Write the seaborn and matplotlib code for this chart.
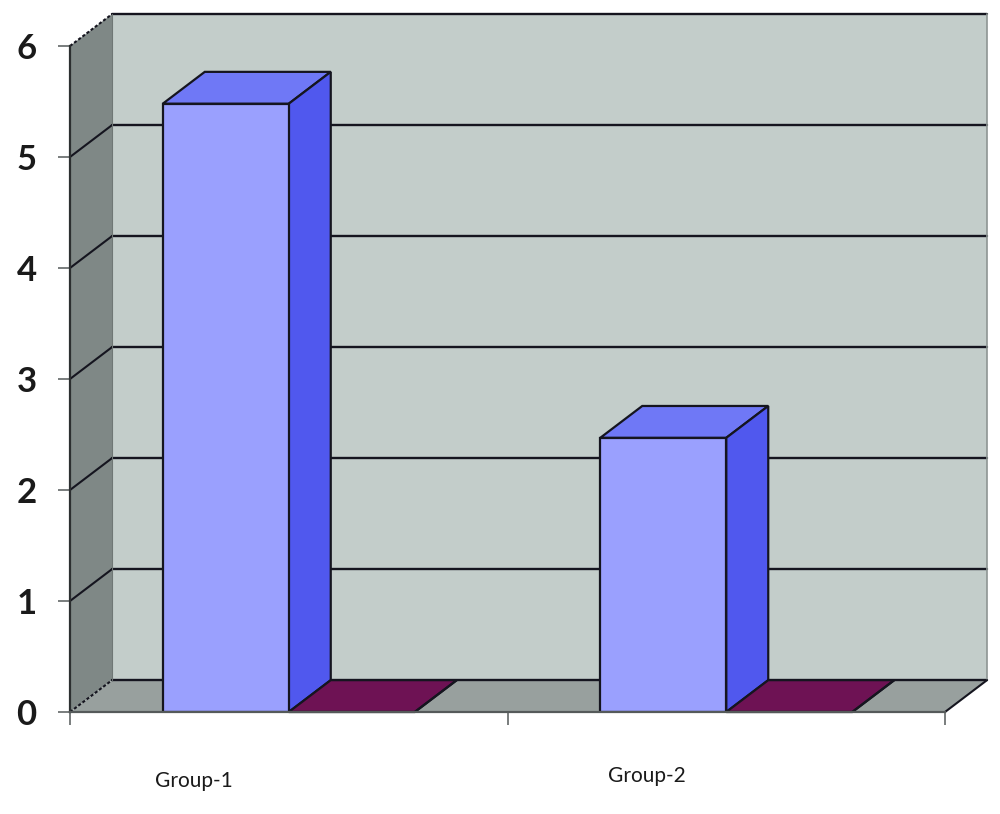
"""Pseudo-3D clustered column chart of two groups, built on a seaborn barplot."""

import matplotlib
matplotlib.use("Agg")
import matplotlib.pyplot as plt
import pandas as pd
import seaborn as sns
from matplotlib.patches import Polygon

groups = ["Group-1", "Group-2"]
series_a = [5.48, 2.47]
series_b = [0.0, 0.0]
y_ticks = [0, 1, 2, 3, 4, 5, 6]

WALL = "#c3cdca"
SIDE_WALL = "#7f8886"
FLOOR = "#98a09e"
EDGE = "#15151f"

# each series: front, top, side colour
SERIES_COLORS = {
    "A": ("#9aa0fe", "#6f78f6", "#5058ee"),
    "B": ("#6e1254", "#6e1254", "#6e1254"),
}

# how far the back of the box sits from the front, in data units
DX = 0.096
DY = 0.287

df = pd.DataFrame({
    "group": groups * 2,
    "series": ["A"] * len(groups) + ["B"] * len(groups),
    "value": series_a + series_b,
})

sns.set_style("white")
plt.rcParams["font.family"] = ["Lato", "DejaVu Sans"]

fig = plt.figure(figsize=(10, 8.14), dpi=100)
ax = fig.add_axes([0.07, 0.1253, 0.875, 0.8182])
ax.patch.set_visible(False)

sns.barplot(
    data=df, x="group", y="value", hue="series",
    palette={k: v[0] for k, v in SERIES_COLORS.items()},
    width=0.576, gap=0, saturation=1, edgecolor=EDGE, linewidth=1.6,
    legend=False, ax=ax, zorder=5,
)

ax.set_xlim(-0.5, 1.5)
ax.set_ylim(0, 6)
x0, x1 = ax.get_xlim()
y0, y1 = ax.get_ylim()


def add_face(points, color, z, edge=None, lw=0.0):
    ax.add_patch(Polygon(points, closed=True, facecolor=color, edgecolor=edge or color,
                         linewidth=lw, zorder=z, clip_on=False))


# box walls
add_face([(x0 + DX, y0 + DY), (x1 + DX, y0 + DY), (x1 + DX, y1 + DY), (x0 + DX, y1 + DY)], WALL, 1)
add_face([(x0, y0), (x0 + DX, y0 + DY), (x0 + DX, y1 + DY), (x0, y1)], SIDE_WALL, 1)
add_face([(x0, y0), (x1, y0), (x1 + DX, y0 + DY), (x0 + DX, y0 + DY)], FLOOR, 1)

# grid on the back wall, with its diagonal on the side wall
for t in y_ticks:
    ends = t in (y_ticks[0], y_ticks[-1])
    ax.plot([x0, x0 + DX], [t, t + DY], color=EDGE, lw=1.5, ls=(0, (1.5, 1)) if ends else "-",
            zorder=2, clip_on=False)
    ax.plot([x0 + DX, x1 + DX], [t + DY, t + DY], color=EDGE, lw=1.7, zorder=2, clip_on=False)

ax.plot([x1 + DX, x1 + DX], [y0 + DY, y1 + DY], color="#8d9593", lw=1.2, zorder=2, clip_on=False)
ax.plot([x0 + DX, x0 + DX], [y0 + DY, y1 + DY], color="#6f7775", lw=0.8, zorder=2, clip_on=False)
ax.plot([x1, x1 + DX], [y0, y0 + DY], color=EDGE, lw=1.5, zorder=2, clip_on=False)

# extrude every bar seaborn drew
for name, container in zip(SERIES_COLORS, ax.containers):
    _, top_c, side_c = SERIES_COLORS[name]
    for bar in container:
        l, r = bar.get_x(), bar.get_x() + bar.get_width()
        h = bar.get_height()
        add_face([(l, h), (r, h), (r + DX, h + DY), (l + DX, h + DY)], top_c, 4, EDGE, 1.6)
        add_face([(r, 0), (r + DX, DY), (r + DX, h + DY), (r, h)], side_c, 4, EDGE, 1.6)

sns.despine(ax=ax, top=True, right=True)
ax.spines["left"].set_color("#2c2f30")
ax.spines["left"].set_linewidth(1.6)
ax.spines["left"].set_zorder(3)
ax.spines["bottom"].set_color("#555a5a")
ax.spines["bottom"].set_linewidth(1.6)
ax.spines["bottom"].set_zorder(6)

ax.set_xlabel("")
ax.set_ylabel("")
ax.set_yticks(y_ticks)
ax.set_xticks([x0, 0.5, x1])
ax.set_xticklabels([])
ax.tick_params(axis="y", left=True, length=9, width=1.1, color="#555a5a", pad=15,
               labelsize=25, labelcolor="#1a1a1a")
ax.tick_params(axis="x", bottom=True, length=9, width=1.1, color="#555a5a")
for lab in ax.get_yticklabels():
    lab.set_fontweight("bold")

# the two labels sit at slightly different heights in the source
label_offsets = [(-95, -69), (-79, -64)]
for i, (name, off) in enumerate(zip(groups, label_offsets)):
    ax.annotate(name, xy=(i, 0), xytext=off, textcoords="offset pixels",
                ha="center", va="center", fontsize=15, color="#1a1a1a", annotation_clip=False)

fig.savefig("out.png", dpi=100, facecolor="white")
plt.close(fig)
